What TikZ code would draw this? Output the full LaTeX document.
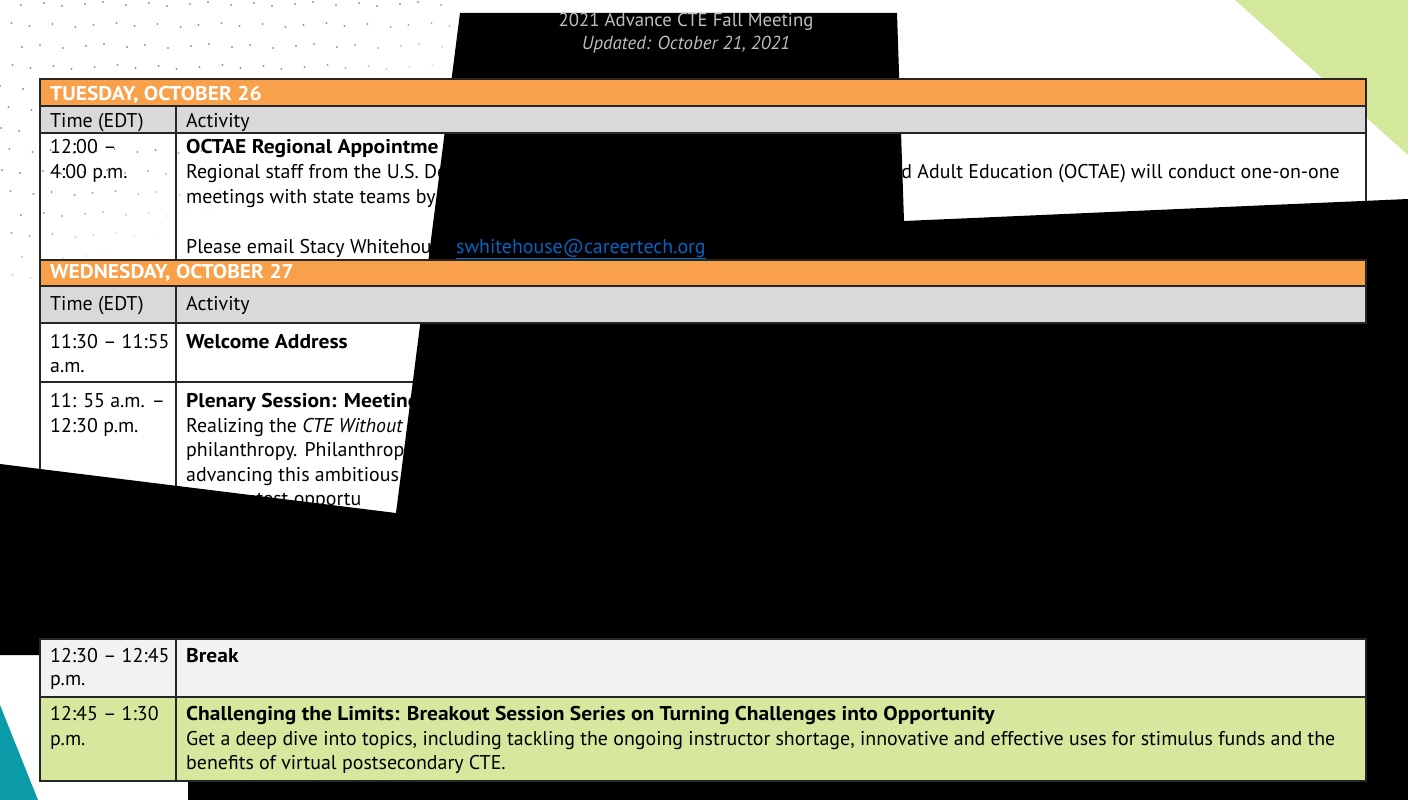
\documentclass[tikz,border=0pt]{standalone}
\usepackage{fontspec}
\setmainfont{PT Sans}[BoldFeatures={FakeStretch=1.08}]
\definecolor{dayorange}{HTML}{F9A04B}
\definecolor{headgray}{HTML}{D9D9D9}
\definecolor{breakgray}{HTML}{F2F2F2}
\definecolor{sessgreen}{HTML}{D5E89D}
\definecolor{cornergreen}{HTML}{D4E89C}
\definecolor{cornerteal}{HTML}{0A9AA8}
\definecolor{linkblue}{HTML}{0563C1}
\definecolor{titlegray}{HTML}{BEBEBE}
\definecolor{dotgray}{HTML}{8C8C8C}
\begin{document}
\begin{tikzpicture}[x=1pt, y=-1pt,
  txt/.style={anchor=base west, inner sep=0pt, font=\fontsize{19.9}{24}\selectfont},
  ttl/.style={txt, font=\fontsize{19.9}{24}\selectfont\bfseries},
  day/.style={txt, text=white, font=\fontsize{19.9}{24}\selectfont\bfseries},
  hdr/.style={anchor=base, inner sep=0pt, text=titlegray, font=\fontsize{18.8}{22}\selectfont},
  rule/.style={draw=black!85, line width=1.5pt}]
\useasboundingbox (0,0) rectangle (1408,800);
\fill[white] (0,0) rectangle (1408,800);
\foreach \i in {0,...,21}{
  \foreach \j in {0,...,13}{
    \pgfmathsetmacro\px{\i*21+mod(\j,2)*10.5+mod(\i*7+\j*3,5)-2}
    \pgfmathsetmacro\py{\j*21+4+mod(\i*3+\j*5,5)-2}
    \pgfmathsetmacro\op{max(0,min(0.9,(330-0.55*\px-\py)/110))}
    \fill[dotgray, opacity=\op] (\px,\py) circle (1.1);
  }
}
\fill[cornergreen] (1235,0) -- (1408,0) -- (1408,155) -- cycle;
\fill[cornerteal] (0,705) -- (38,800) -- (0,800) -- cycle;
\draw[rule] (40,133) rectangle (1366,260);
\draw[rule] (176,133) -- (176,260);
\draw[rule] (40,323) rectangle (1366,382);
\draw[rule] (176,323) -- (176,382);
\draw[rule] (40,382) rectangle (1366,639);
\draw[rule] (176,382) -- (176,639);
\node[txt] at (50,153) (tue1a) {12:00 –};
\node[txt] at (50,178) (tue1b) {4:00 p.m.};
\node[ttl] at (186,153) (tue1t) {OCTAE Regional Appointme};
\node[txt] at (186,178) (tue1l1) {Regional staff from the U.S. De};
\node[txt] at (186,203) (tue1l2) {meetings with state teams by};
\node[txt] at (186,253) (tue1l3) {Please email Stacy Whitehou};
\node[txt, anchor=base east] at (1340,178) (tue1r1) {d Adult Education (OCTAE) will conduct one-on-one};
\node[txt] at (50,348) (wed1a) {11:30 – 11:55};
\node[txt] at (50,372) (wed1b) {a.m.};
\node[ttl] at (186,348) (wed1t) {Welcome Address};
\node[txt] at (50,407) (wed2a) {11: 55 a.m. –};
\node[txt] at (50,432) (wed2b) {12:30 p.m.};
\node[ttl] at (186,407) (wed2t) {Plenary Session: Meeting};
\node[txt] at (186,432) (wed2l1) {Realizing the \textit{CTE Without}};
\node[txt] at (186,456.5) (wed2l2) {philanthropy. Philanthrop};
\node[txt] at (186,481) (wed2l3) {advancing this ambitious};
\node[txt] at (186,505.5) (wed2l4) {the greatest opportu};
\fill[black] (188,800) -- (188,781) -- (40,781) -- (40,655) -- (0,655) -- (0,464) -- (396,513) -- (460,13) -- (897,13) -- (904,221) -- (1408,199) -- (1408,800) -- cycle;
\filldraw[fill=dayorange, rule] (40,79) rectangle (1366,106);
\filldraw[fill=headgray, rule] (40,106) rectangle (1366,133);
\draw[rule] (176,106) -- (176,133);
\filldraw[fill=dayorange, rule] (40,260) rectangle (1366,286);
\filldraw[fill=headgray, rule] (40,286) rectangle (1366,323);
\draw[rule] (176,286) -- (176,323);
\filldraw[fill=breakgray, rule] (40,639) rectangle (1366,697);
\draw[rule] (176,639) -- (176,697);
\filldraw[fill=sessgreen, rule] (40,697) rectangle (1366,781);
\draw[rule] (176,697) -- (176,781);
\node[hdr] at (686,27) (title) {2021 Advance CTE Fall Meeting};
\node[hdr] at (686,50) (updated) {\itshape Updated: October 21, 2021};
\node[day] at (50,100) (tueday) {TUESDAY, OCTOBER 26};
\node[txt] at (50,127) (tuetime) {Time (EDT)};
\node[txt] at (186,127) (tueact) {Activity};
\node[txt, text=linkblue] at (456,253) (tuelink) {\underline{swhitehouse@careertech.org}};
\node[day] at (50,278) (wedday) {WEDNESDAY, OCTOBER 27};
\node[txt] at (50,310) (wedtime) {Time (EDT)};
\node[txt] at (186,310) (wedact) {Activity};
\node[txt] at (50,662) (brka) {12:30 – 12:45};
\node[txt] at (50,685) (brkb) {p.m.};
\node[ttl] at (186,662) (brkt) {Break};
\node[txt] at (50,720) (lima) {12:45 – 1:30};
\node[txt] at (50,745) (limb) {p.m.};
\node[ttl] at (186,720) (limt) {Challenging the Limits: Breakout Session Series on Turning Challenges into Opportunity};
\node[txt] at (186,745) (liml1) {Get a deep dive into topics, including tackling the ongoing instructor shortage, innovative and effective uses for stimulus funds and the};
\node[txt] at (186,769) (liml2) {benefits of virtual postsecondary CTE.};
\end{tikzpicture}
\end{document}
